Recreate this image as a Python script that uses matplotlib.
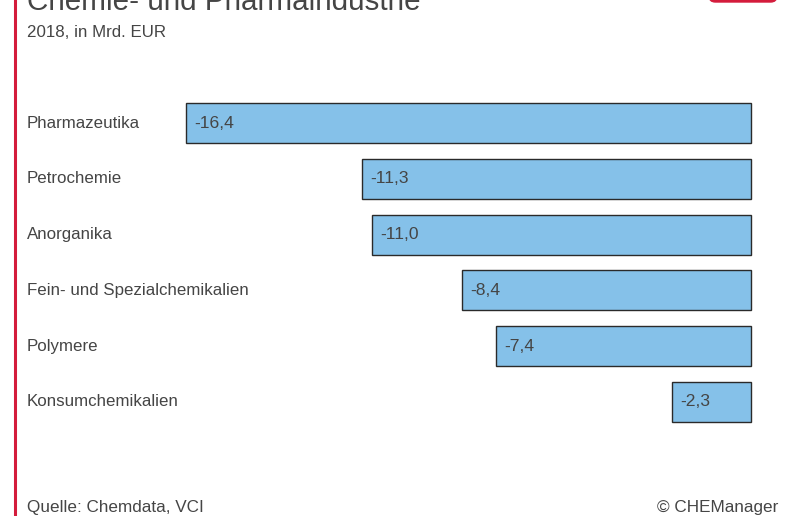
import matplotlib.pyplot as plt
from matplotlib.patches import FancyBboxPatch
from matplotlib.transforms import blended_transform_factory

categories = ['Pharmazeutika', 'Petrochemie', 'Anorganika',
              'Fein- und Spezialchemikalien', 'Polymere', 'Konsumchemikalien']
values = [-16.4, -11.3, -11.0, -8.4, -7.4, -2.3]

W, H = 795, 516
TEXT = '#454545'
RED = '#d41c3c'
BLUE = '#85c1e9'

plt.rcParams['font.family'] = ['Liberation Sans', 'DejaVu Sans']

fig = plt.figure(figsize=(W / 100, H / 100), dpi=100)

# bar area in pixels: right edge at 0, rows centred 123..402 px from top
left_px, right_px = 186, 751
top_px, bot_px = 95.1, 429.9
ax = fig.add_axes([left_px / W, 1 - bot_px / H, (right_px - left_px) / W, (bot_px - top_px) / H])
ax.set_xlim(min(values), 0)
ax.set_ylim(len(categories) - 0.5, -0.5)
ax.axis('off')

ys = range(len(categories))
bars = ax.barh(ys, values, height=0.72, color=BLUE, edgecolor='#2a2a2a', linewidth=1.0)
for b in bars:
    b.set_clip_on(False)

lab_tr = blended_transform_factory(fig.transFigure, ax.transData)
for y, cat, v in zip(ys, categories, values):
    ax.text(27 / W, y, cat, transform=lab_tr, ha='left', va='center',
            fontsize=12.2, color=TEXT)
    ax.annotate(f'{v:.1f}'.replace('.', ','), (v, y), xytext=(6, 0),
                textcoords='offset points', ha='left', va='center',
                fontsize=12.6, color=TEXT)

# header
fig.text(27 / W, 1 - 10 / H, 'Chemie- und Pharmaindustrie', fontsize=21.3,
         color=TEXT, va='baseline', ha='left')
fig.text(27 / W, 1 - 37 / H, '2018, in Mrd. EUR', fontsize=12.2,
         color=TEXT, va='baseline', ha='left')

# footer
fig.text(27 / W, 1 - 512 / H, 'Quelle: Chemdata, VCI', fontsize=12.3,
         color=TEXT, va='baseline', ha='left')
fig.text(778 / W, 1 - 512 / H, '© CHEManager', fontsize=12.3,
         color=TEXT, va='baseline', ha='right')

# red accent bar on the left and logo tab at the top right
fig.add_artist(plt.Line2D([15 / W, 15 / W], [0, 1], color=RED, lw=2.2,
                          transform=fig.transFigure))
fig.add_artist(FancyBboxPatch((709 / W, 1 - 2 / H), 68 / W, 20 / H,
                              boxstyle='round,pad=0,rounding_size=0.008',
                              transform=fig.transFigure, color=RED,
                              mutation_aspect=W / H, clip_on=False))

fig.savefig('out.png', dpi=100)
